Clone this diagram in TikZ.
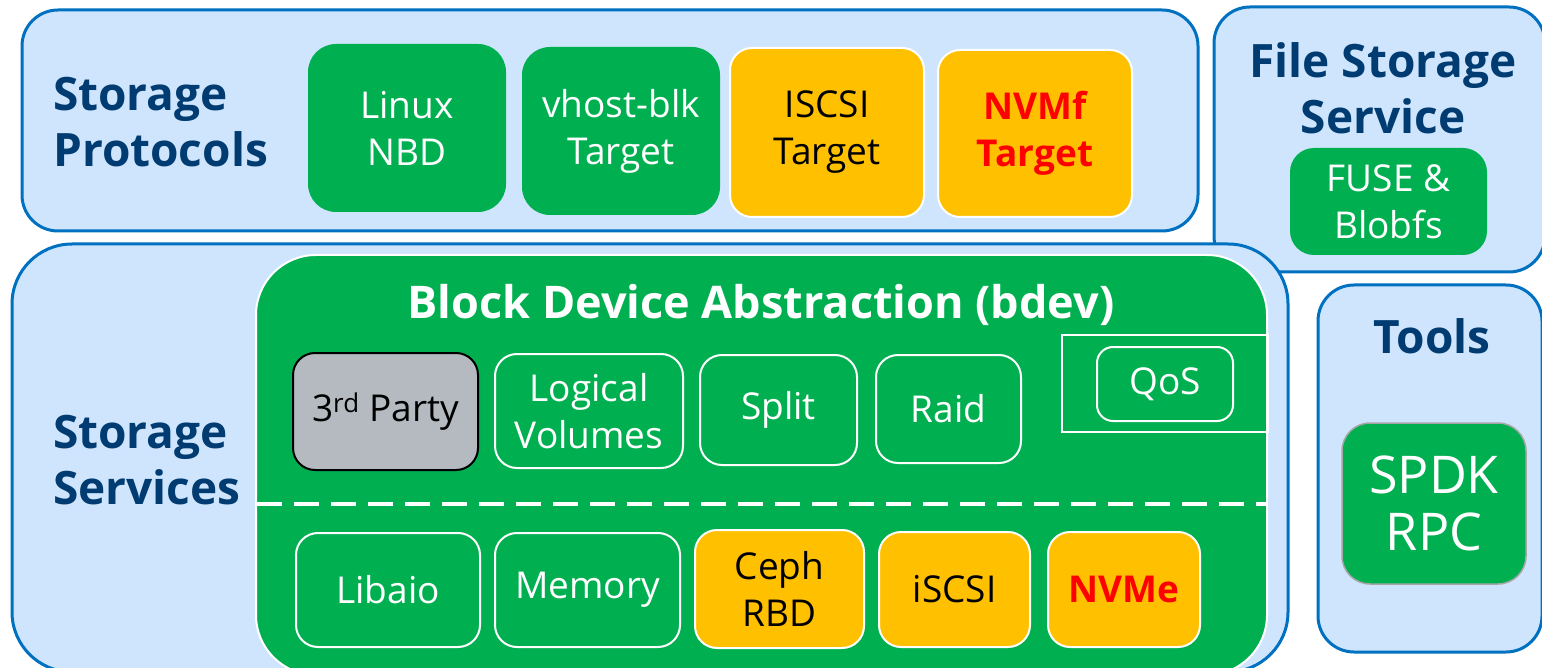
\documentclass[tikz,border=0pt]{standalone}
\usepackage{fontspec}
\setmainfont{Open Sans}
\definecolor{panelblue}{RGB}{207,229,253}
\definecolor{edgeblue}{RGB}{0,112,192}
\definecolor{spdkgreen}{RGB}{0,176,80}
\definecolor{spdkorange}{RGB}{255,192,0}
\definecolor{titlenavy}{RGB}{0,60,113}
\definecolor{partygray}{RGB}{180,186,192}
\definecolor{nvmred}{RGB}{255,0,0}

\begin{document}
\begin{tikzpicture}[x=1pt,y=-1pt,
    panel/.style={draw=edgeblue,line width=3pt,fill=panelblue,
      rounded corners=36pt,inner sep=0pt},
    heading/.style={text=titlenavy,align=left,inner sep=0pt,
      font=\fontsize{46}{56}\selectfont\bfseries},
    module/.style={fill=spdkgreen,text=white,align=center,inner sep=0pt,
      rounded corners=28pt,font=\fontsize{37}{47}\selectfont},
    lined/.style={module,draw=white,line width=2pt,rounded corners=22pt},
    external/.style={lined,fill=spdkorange,text=black},
    hotspot/.style={external,text=nvmred,font=\fontsize{37}{47}\selectfont\bfseries},
    divider/.style={draw=white,line width=4pt,dash pattern=on 25pt off 12pt}]
  \useasboundingbox (0,0) rectangle (1542,668);
  \clip (0,0) rectangle (1542,668);

  \node[panel,minimum width=331pt,minimum height=265pt] (filesvc) at (1379.5,139.5) {};
  \node[panel,minimum width=1176pt,minimum height=221pt] (protocols) at (610,120.5) {};
  \node[panel,rounded corners=60pt,minimum width=1276pt,minimum height=428pt] (services) at (650,458) {};
  \node[panel,minimum width=224pt,minimum height=367pt] (tools) at (1430,468.5) {};

  \node[heading,anchor=west] (protocolslabel) at (53,122) {Storage\\Protocols};
  \node[heading,anchor=west] (serviceslabel) at (53,460) {Storage\\Services};
  \node[heading,align=center] (filesvclabel) at (1383,88) {File Storage\\Service};
  \node[heading] (toolslabel) at (1432,336) {Tools};

  \node[module,minimum width=198pt,minimum height=168pt] (nbd) at (407,128) {Linux\\NBD};
  \node[module,minimum width=198pt,minimum height=168pt] (vhost) at (621,131) {vhost-blk\\Target};
  \node[external,minimum width=194pt,minimum height=169pt] (iscsitgt) at (827,132.5) {ISCSI\\Target};
  \node[hotspot,minimum width=194pt,minimum height=167pt] (nvmftgt) at (1035,133.5) {NVMf\\Target};

  \node[module,rounded corners=24pt,minimum width=197pt,minimum height=107pt] (fuse) at (1388.5,201.5) {FUSE \&\\Blobfs};
  \node[module,draw=gray!70,line width=1.5pt,font=\fontsize{52}{57}\selectfont,
    minimum width=184pt,minimum height=161pt] (rpc) at (1434,503.5) {SPDK\\RPC};

  \node[lined,rounded corners=60pt,minimum width=1011pt,minimum height=420pt] (bdev) at (761.5,465) {};
  \node[text=white,font=\fontsize{45}{54}\selectfont\bfseries] (bdevlabel) at (761,305) {Block Device Abstraction (bdev)};

  \node[lined,fill=partygray,draw=black,text=black,minimum width=185pt,minimum height=117pt] (party) at (385.5,411.5) {3\textsuperscript{rd} Party};
  \node[lined,minimum width=188pt,minimum height=114pt] (lvol) at (589,411) {Logical\\Volumes};
  \node[lined,minimum width=157pt,minimum height=110pt] (split) at (778.5,410) {Split};
  \node[lined,minimum width=145pt,minimum height=108pt] (raid) at (948.5,409) {Raid};
  \node[draw=white,line width=2pt,minimum width=206pt,minimum height=97pt] (qosframe) at (1165,383.5) {};
  \node[lined,rounded corners=16pt,minimum width=136pt,minimum height=74pt] (qos) at (1165,384) {QoS};

  \coordinate (splitleft) at (257,504);
  \coordinate (splitright) at (1266,504);
  \draw[divider] (splitleft) -- (splitright);

  \node[lined,minimum width=184pt,minimum height=114pt] (libaio) at (388,590) {Libaio};
  \node[lined,minimum width=185pt,minimum height=114pt] (memory) at (587.5,590) {Memory};
  \node[external,minimum width=169pt,minimum height=118pt] (ceph) at (779.5,589) {Ceph\\RBD};
  \node[external,minimum width=151pt,minimum height=115pt] (iscsi) at (954.5,589.5) {iSCSI};
  \node[hotspot,minimum width=152pt,minimum height=115pt] (nvme) at (1124,589.5) {NVMe};
\end{tikzpicture}
\end{document}
